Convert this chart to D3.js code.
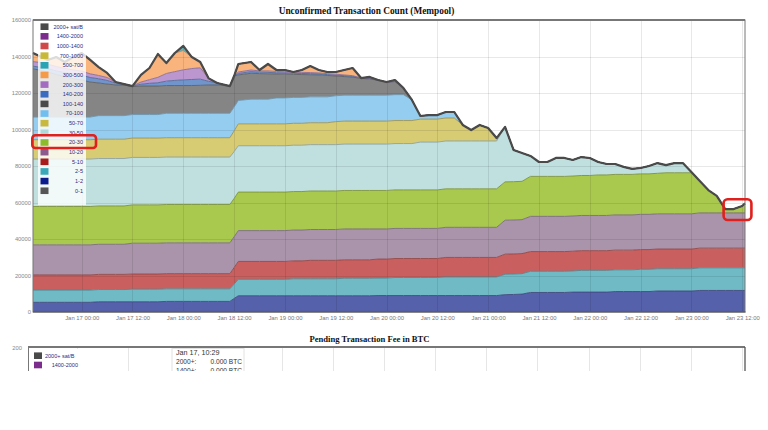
<!DOCTYPE html>
<html><head><meta charset="utf-8">
<script src="https://cdn.jsdelivr.net/npm/d3@7"></script>
<style>body{margin:0;background:#fff;}svg{display:block;}</style>
</head><body>
<svg id="c" width="768" height="430"></svg>
<script>
// ---------- DATA ----------
// hours relative to Jan 17 00:00 (2018)
const hours = [-11.5,-10,-8,-6,-4,-2,0,2,4,6,8,10,12,14,16,18,20,22,24,26,28,30,32,35,36,37,40,42,44,46,48,50,52,54,56,58,60,62,64,66,68,70,72,74,76,78,80,82,84,86,88,90,92,94,96,98,100,102,104,106,108,110,112,114,116,118,120,122,124,126,128,130,132,134,136,138,140,142,144,146,148,150,152,154,156,156.67];

const feeBands = ["0-1","1-2","2-5","5-10","10-20","20-30","30-50","50-70","70-100","100-140","140-200","200-300","300-500","500-700","700-1000","1000-1400","1400-2000","2000+"];

const s0_1 = [300,300,300,300,300,300,300,300,300,300,300,300,300,300,300,300,300,300,300,300,300,300,300,300,300,300,300,300,300,300,300,300,300,300,300,300,300,300,300,300,300,300,300,300,300,300,300,300,300,300,300,300,300,300,300,300,300,300,300,300,300,300,300,300,300,300,300,300,300,300,300,300,300,300,300,300,300,300,300,300,300,300,300,300,300,300];
const s1_2 = [5000,5000,5000,5000,5000,5000,5000,5000,5300,5300,
5300,5300,5300,5300,5300,5300,5500,5500,5500,5500,
5500,5500,5500,5500,7100,8600,8600,8600,8600,8600,
8600,8600,8600,8600,8600,8600,8600,8600,8600,8600,
8600,8700,8700,8700,8700,8700,8700,8700,8700,8700,
8700,8700,8700,8700,8700,8700,9200,9300,9500,10400,
10400,10400,10400,10400,10600,10600,10600,10600,10600,10900,
10900,10900,10900,10900,11200,11200,11200,11200,11200,11500,
11500,11500,11500,11500,11500,11500];
const s2_5 = [6700,6700,6700,6700,6700,6700,6700,6700,6700,6700,
6700,6700,6900,6900,6900,6900,6900,6900,6900,6900,
6900,6900,6900,6900,7900,9000,9000,9000,9000,9000,
9000,9300,9300,9300,9300,9300,9300,9600,9600,9600,
9600,9600,9600,9900,9900,9900,9900,9900,9900,10200,
10200,10200,10200,10200,10200,10200,11200,11200,11200,11600,
11600,11600,11600,11600,11600,11900,11900,11900,11900,11900,
11900,11900,12200,12200,12200,12200,12200,12200,12200,12400,
12400,12400,12400,12400,12400,12400];
const s5_10 = [8300,8300,8300,8300,8300,8300,8300,8300,8300,8300,
8300,8300,8300,8300,8300,8300,8300,8300,8300,8300,
8300,8300,8300,8300,9000,9800,9800,9800,9800,9800,
9800,9800,9800,10100,10100,10100,10100,10100,10100,10100,
10100,10400,10400,10400,10400,10400,10400,10400,10400,10700,
10700,10700,10700,10700,10700,10700,11000,11000,11000,10800,
10800,10800,10800,10800,10800,10800,10800,10800,10800,10800,
10800,10800,10800,10800,10800,10800,10800,10800,10800,10800,
10800,10800,10800,10800,10800,10800];
const s10_20 = [16500,16500,16500,16500,16500,16500,16500,16500,16500,16500,
16500,16500,16900,16900,16900,16900,16900,16900,16900,16900,
16900,16900,16900,16900,16900,16900,16900,16900,16900,16900,
16900,16900,16900,16900,16900,16900,16900,16900,16900,16900,
16900,16500,16500,16500,16500,16500,16500,16500,16500,16500,
16500,16500,16500,16500,16500,16500,18600,18600,18600,19300,
19300,19300,19300,19300,19300,19300,19300,19300,19300,19300,
19300,19300,19300,19300,19300,19300,19300,19300,19300,19300,
19300,19300,19300,19300,19300,19300];
const s20_30 = [21000,21000,21000,21000,21000,21000,21000,21000,21000,21000,
21000,21000,21000,21000,21000,21000,21000,21000,21000,21000,
21000,21000,21000,21000,21000,21100,21100,21100,21100,21100,
21100,21100,21100,21100,21100,21100,21100,21100,21100,21100,
21100,21100,21100,21100,21100,21100,21100,21100,21100,21100,
21100,21100,21100,21100,21100,21100,21000,21000,21000,21900,
21900,21900,21900,21900,21900,21900,21900,22200,22200,22200,
22200,22200,22200,22200,22200,22500,22500,22500,22500,17500,
12500,9300,2100,2100,3800,5200];
const s30_50 = [26000,26000,26000,26000,26000,26000,26000,26000,26000,26000,
26000,26000,26000,26000,26000,26000,26000,26000,26000,26000,
26000,26000,26000,26000,25700,25400,25400,25400,25400,25400,
25400,25400,25400,25400,25400,25400,25400,25400,25400,25400,
25400,25400,25400,25400,25400,25400,26200,26200,26200,26200,
26200,26200,26200,26200,26200,26200,30100,17400,15500,11200,
7900,7900,10100,10100,8800,10100,9600,7100,6000,5700,
4100,3000,3200,4300,5600,4200,5300,5300,400,0,
0,0,0,0,0,0];
const s50_70 = [10600,10600,10600,10600,10600,10600,10600,10600,10600,10600,
10600,10600,10600,10600,10600,10600,10600,10600,10600,10600,
10600,10600,10600,10600,11300,12000,12000,12000,12000,12000,
12000,12000,12000,12000,12000,12000,12600,12600,12600,12600,
12600,12600,12600,12600,12600,12600,12600,12600,12600,12600,
12600,8800,6000,8800,7100,1600,0,0,0,0,
0,0,0,0,0,0,0,0,0,0,
0,0,0,0,0,0,0,0,0,0,
0,0,0,0,0,0];
const s70_100 = [12400,12400,12400,12400,12400,12400,12400,12400,12900,12900,
12900,12900,12900,12900,12900,12900,13400,13400,13400,13400,
13400,13400,13400,13400,13100,12800,13500,13500,13500,14200,
14200,14200,14200,14200,14200,14200,14200,14200,14200,14200,
14200,14200,14200,14200,14200,11300,1700,2200,2200,3300,
3300,0,0,0,0,0,0,0,0,0,
0,0,0,0,0,0,0,0,0,0,
0,0,0,0,0,0,0,0,0,0,
0,0,0,0,0,0];
const s100_140 = [26400,25800,24700,23300,22200,21100,20300,19200,17900,17300,
16800,16800,15300,15600,15600,15600,15200,15200,15200,15200,
15300,15500,15500,14900,17000,14000,14200,14000,13900,13100,
13000,12600,12500,12100,12000,11700,10800,10200,9900,9200,
8800,8300,7200,7200,3600,0,0,0,0,0,
0,0,0,0,0,0,0,0,0,0,
0,0,0,0,0,0,0,0,0,0,
0,0,0,0,0,0,0,0,0,0,
0,0,0,0,0,0];
const s140_200 = [1500,1600,1800,2000,2200,2500,2700,2500,2300,2000,
1000,500,300,1000,1500,1800,2400,2800,3100,3300,
3400,2000,1100,0,0,800,900,800,800,700,
700,600,600,600,600,500,500,500,400,200,
300,0,0,0,0,0,0,0,0,0,
0,0,0,0,0,0,0,0,0,0,
0,0,0,0,0,0,0,0,0,0,
0,0,0,0,0,0,0,0,0,0,
0,0,0,0,0,0];
const s200_300 = [2500,2600,2500,2400,2300,2200,2200,2000,1800,1600,
600,0,0,1200,2000,3000,4200,4800,5500,6000,
6200,1600,0,0,0,800,900,700,800,700,
700,500,600,600,500,500,500,400,400,0,
300,0,0,0,0,0,0,0,0,0,
0,0,0,0,0,0,0,0,0,0,
0,0,0,0,0,0,0,0,0,0,
0,0,0,0,0,0,0,0,0,0,
0,0,0,0,0,0];
const s300_500 = [4700,3500,2300,5200,3500,7100,9900,7600,4600,2500,
0,0,0,3900,6400,12800,5700,10200,10600,6300,
3200,0,0,0,0,4400,4400,500,3800,800,
900,200,1300,3600,1600,900,1200,2700,4200,0,
600,0,0,800,0,0,0,0,0,0,
0,0,0,0,0,0,0,0,0,0,
0,0,0,0,0,0,0,0,0,0,
0,0,0,0,0,0,0,0,0,0,
0,0,0,0,0,0];
const s500_700 = [0,0,0,0,0,0,0,0,0,0,
0,0,0,0,0,0,0,0,2500,0,
0,0,0,0,0,0,0,0,0,0,
0,0,0,0,0,0,0,0,0,0,
0,0,0,0,0,0,0,0,0,0,
0,0,0,0,0,0,0,0,0,0,
0,0,0,0,0,0,0,0,0,0,
0,0,0,0,0,0,0,0,0,0,
0,0,0,0,0,0];
const s700_1000 = [0,0,0,0,0,0,0,0,0,0,0,0,0,0,0,0,0,0,0,0,0,0,0,0,0,0,0,0,0,0,0,0,0,0,0,0,0,0,0,0,0,0,0,0,0,0,0,0,0,0,0,0,0,0,0,0,0,0,0,0,0,0,0,0,0,0,0,0,0,0,0,0,0,0,0,0,0,0,0,0,0,0,0,0,0,0];
const s1000_1400 = [0,0,0,0,0,0,0,0,0,0,0,0,0,0,0,0,0,0,0,0,0,0,0,0,0,0,0,0,0,0,0,0,0,0,0,0,0,0,0,0,0,0,0,0,0,0,0,0,0,0,0,0,0,0,0,0,0,0,0,0,0,0,0,0,0,0,0,0,0,0,0,0,0,0,0,0,0,0,0,0,0,0,0,0,0,0];
const s1400_2000 = [0,0,0,0,0,0,0,0,0,0,0,0,0,0,0,0,0,0,0,0,0,0,0,0,0,0,0,0,0,0,0,0,0,0,0,0,0,0,0,0,0,0,0,0,0,0,0,0,0,0,0,0,0,0,0,0,0,0,0,0,0,0,0,0,0,0,0,0,0,0,0,0,0,0,0,0,0,0,0,0,0,0,0,0,0,0];
const s2000 = [0,0,0,0,0,0,0,0,0,0,0,0,0,0,0,0,0,0,0,0,0,0,0,0,0,0,0,0,0,0,0,0,0,0,0,0,0,0,0,0,0,0,0,0,0,0,0,0,0,0,0,0,0,0,0,0,0,0,0,0,0,0,0,0,0,0,0,0,0,0,0,0,0,0,0,0,0,0,0,0,0,0,0,0,0,0];

const yTickValues = [0,20000,40000,60000,80000,100000,120000,140000,160000];
const legendLabels = ["2000+ sat/B","1400-2000","1000-1400","700-1000","500-700","300-500","200-300","140-200","100-140","70-100","50-70","30-50","20-30","10-20","5-10","2-5","1-2","0-1"];
const tooltipLines = ["Jan 17, 10:29", "2000+:", "0.000 BTC", "1400+:", "0.000 BTC"];

// ---------- STYLE ----------
const fillColors = ["#6a6a6a","#5561ab","#70bac6","#c9605f","#a994ab","#a9c94e","#bfe0df","#d7cb74","#95cdf0","#858585","#7094cc","#bb96cf","#f8b47c","#5bb5bf","#d8cc70","#dd7a7a","#a070ae","#707070"];
const legendColors = ["#555555","#0b1b8c","#3aa8b8","#a81c1c","#8c5a8c","#8cbc2c","#b0d8d8","#c8b840","#70bff0","#4a4a4a","#3c6cc0","#a46cc0","#f49a48","#28a4b4","#c8b838","#d04848","#7c2c8c","#4a4a4a"];
const sans = "'Liberation Sans', Arial, sans-serif";
const serif = "'Liberation Serif', 'Times New Roman', serif";

// ---------- BUILD ----------
const values = [s0_1,s1_2,s2_5,s5_10,s10_20,s20_30,s30_50,s50_70,s70_100,s100_140,s140_200,s200_300,s300_500,s500_700,s700_1000,s1000_1400,s1400_2000,s2000];
const base = new Date(2018,0,17,0,0);
const toDate = h => new Date(+base + h*3600e3);
const rows = hours.map((h,i) => { const r = {t: toDate(h)}; feeBands.forEach((n,k)=> r[n] = values[k][i]); return r; });
const stacked = d3.stack().keys(feeBands)(rows);

const svg = d3.select("#c");
const L = 33, R = 745, T = 20, B = 312;
const x = d3.scaleTime().domain([toDate(hours[0]), toDate(hours[hours.length-1])]).range([L, R]);
const y = d3.scaleLinear().domain([0,160000]).range([B, T]);
const xTicks = d3.timeHour.every(12).range(toDate(0), toDate(157));

// title
svg.append("text").attr("x",366.5).attr("y",14).attr("text-anchor","middle")
  .attr("font-family",serif).attr("font-weight","bold").attr("font-size",9.3).attr("fill","#111")
  .text("Unconfirmed Transaction Count (Mempool)");

// areas
const area = d3.area().x(d=>x(d.data.t)).y0(d=>y(d[0])).y1(d=>y(d[1]));
svg.append("g").selectAll("path").data(stacked).join("path")
  .attr("d", area).attr("fill", (d,i)=>fillColors[i]);

// grid lines (faint, on top of areas)
const grid = svg.append("g").attr("stroke","rgba(0,0,0,0.09)").attr("stroke-width",1);
grid.selectAll("line.v").data(xTicks).join("line").attr("class","v")
  .attr("x1",d=>Math.round(x(d))+0.5).attr("x2",d=>Math.round(x(d))+0.5).attr("y1",T).attr("y2",B);
grid.selectAll("line.h").data(yTickValues.slice(1,-1)).join("line").attr("class","h")
  .attr("x1",L).attr("x2",R).attr("y1",d=>Math.round(y(d))+0.5).attr("y2",d=>Math.round(y(d))+0.5);

// layer top lines
const topLine = d3.line().x(d=>x(d.data.t)).y(d=>y(d[1]));
svg.append("g").attr("fill","none").selectAll("path").data(stacked).join("path")
  .attr("d", topLine)
  .attr("stroke", (d,i)=> i===feeBands.length-1 ? "#4a4a4a" : d3.color(fillColors[i]).darker(0.9))
  .attr("stroke-width", (d,i)=> i===feeBands.length-1 ? 2.2 : 0.9)
  .attr("stroke-linejoin","round");

// frame
svg.append("rect").attr("x",L).attr("y",T).attr("width",R-L).attr("height",B-T)
  .attr("fill","none").attr("stroke","#777").attr("stroke-width",1);
svg.append("line").attr("x1",L).attr("x2",R).attr("y1",T).attr("y2",T).attr("stroke","#777").attr("stroke-width",2);
svg.append("line").attr("x1",L).attr("x2",R+0.5).attr("y1",B).attr("y2",B).attr("stroke","#555").attr("stroke-width",1.2);

// axes
const yAxis = svg.append("g").attr("transform",`translate(${L},0)`)
  .call(d3.axisLeft(y).tickValues(yTickValues).tickSize(0).tickPadding(2).tickFormat(d3.format("d")));
yAxis.select(".domain").remove();
yAxis.selectAll("text").attr("font-family",sans).attr("font-size",5.8).attr("fill","#888");

const xAxis = svg.append("g").attr("transform",`translate(0,${B})`)
  .call(d3.axisBottom(x).tickValues(xTicks).tickSize(0).tickPadding(4).tickFormat(d3.timeFormat("%b %d %H:%M")));
xAxis.select(".domain").remove();
xAxis.selectAll("text").attr("font-family",sans).attr("font-size",5.9).attr("fill","#777");

// legend
const lg = svg.append("g");
lg.append("rect").attr("x",38).attr("y",21).attr("width",48).attr("height",184).attr("fill","#fff").attr("fill-opacity",0.8);
legendLabels.forEach((lab,i)=>{
  const k = feeBands.length-1-i;
  const yy = 26.7 + i*9.65;
  lg.append("rect").attr("x",40.5).attr("y",yy-3.3).attr("width",8).attr("height",6.6).attr("fill",legendColors[k]);
  lg.append("text").attr("x",83).attr("y",yy).attr("dy","0.35em").attr("text-anchor","end")
    .attr("font-family",sans).attr("font-size",5.5).attr("fill","#2b2b80").text(lab);
});

// ---------- second (cut-off) chart ----------
svg.append("text").attr("x",369.5).attr("y",341.5).attr("text-anchor","middle")
  .attr("font-family",serif).attr("font-weight","bold").attr("font-size",8.6).attr("fill","#111")
  .text("Pending Transaction Fee in BTC");
svg.append("defs").append("clipPath").attr("id","cut").append("rect").attr("x",0).attr("y",330).attr("width",768).attr("height",41);
const g2 = svg.append("g").attr("clip-path","url(#cut)");
const L2 = 28;
const x2 = d3.scaleTime().domain(x.domain()).range([L2, R]);
g2.selectAll("line.v2").data(xTicks).join("line").attr("class","v2")
  .attr("x1",d=>Math.round(x2(d))+0.5).attr("x2",d=>Math.round(x2(d))+0.5).attr("y1",347).attr("y2",380)
  .attr("stroke","#e6e6e6");
g2.append("line").attr("x1",L2).attr("x2",R).attr("y1",347).attr("y2",347).attr("stroke","#777").attr("stroke-width",2);
g2.append("line").attr("x1",L2+0.5).attr("x2",L2+0.5).attr("y1",347).attr("y2",380).attr("stroke","#777");
g2.append("line").attr("x1",R).attr("x2",R).attr("y1",347).attr("y2",380).attr("stroke","#555").attr("stroke-width",1.3);
svg.append("text").attr("x",22).attr("y",348.3).attr("dy","0.35em").attr("text-anchor","end")
  .attr("font-family",sans).attr("font-size",5.8).attr("fill","#888").text("200");
// legend of second chart
g2.append("rect").attr("x",30).attr("y",349).attr("width",54).attr("height",25).attr("fill","#fff");
[[17,"2000+ sat/B",355.7],[16,"1400-2000",365]].forEach(([k,lab,yy],i)=>{
  g2.append("rect").attr("x",34).attr("y",yy-3.3).attr("width",8).attr("height",6.6).attr("fill",legendColors[k]);
  g2.append("text").attr("x", i===0 ? 45 : 78).attr("y",yy).attr("dy","0.35em").attr("text-anchor", i===0 ? "start" : "end")
    .attr("font-family",sans).attr("font-size",5.5).attr("fill","#2b2b80").text(lab);
});
// tooltip
g2.append("rect").attr("x",172).attr("y",348.5).attr("width",72).attr("height",30).attr("fill","#fff").attr("stroke","#e2e2e2");
g2.append("text").attr("x",176).attr("y",352.7).attr("dy","0.35em").attr("font-family",sans).attr("font-size",7.2).attr("fill","#333").text(tooltipLines[0]);
[[1,361.7],[3,370.7]].forEach(([j,yy])=>{
  g2.append("text").attr("x",176).attr("y",yy).attr("dy","0.35em").attr("font-family",sans).attr("font-size",6.6).attr("fill","#333").text(tooltipLines[j]);
  g2.append("text").attr("x",242).attr("y",yy).attr("dy","0.35em").attr("text-anchor","end").attr("font-family",sans).attr("font-size",6.6).attr("fill","#333").text(tooltipLines[j+1]);
});

// ---------- red annotation boxes ----------
svg.append("rect").attr("x",32.3).attr("y",135.3).attr("width",63.7).attr("height",12.7).attr("rx",3)
  .attr("fill","none").attr("stroke","#e0201c").attr("stroke-width",2.6);
svg.append("rect").attr("x",723.6).attr("y",199.3).attr("width",27.8).attr("height",20.7).attr("rx",4)
  .attr("fill","none").attr("stroke","#e0201c").attr("stroke-width",2.6);
</script>
</body></html>
